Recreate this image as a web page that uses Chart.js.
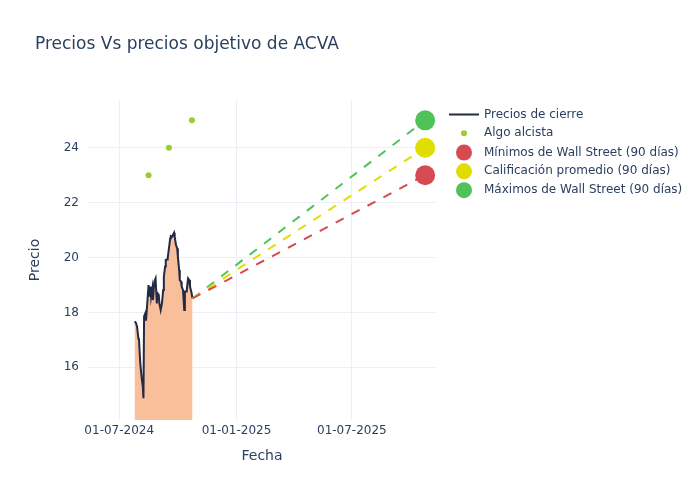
<!DOCTYPE html>
<html>
<head>
<meta charset="utf-8">
<script src="https://cdn.jsdelivr.net/npm/chart.js@4/dist/chart.umd.min.js"></script>
<style>
	html, body { margin: 0; padding: 0; background: #ffffff; }
</style>
</head>
<body>
<canvas id="chart" width="700" height="500"></canvas>
<script>
// Precios de cierre (ACVA)
const closeDates = [
	"2024-07-25", "2024-07-27", "2024-07-29", "2024-07-31", "2024-08-01", "2024-08-03",
	"2024-08-05", "2024-08-07", "2024-08-08", "2024-08-09", "2024-08-11", "2024-08-12",
	"2024-08-14", "2024-08-16", "2024-08-17", "2024-08-19", "2024-08-20", "2024-08-22",
	"2024-08-23", "2024-08-25", "2024-08-27", "2024-08-29", "2024-08-30", "2024-09-01",
	"2024-09-02", "2024-09-04", "2024-09-06", "2024-09-08", "2024-09-09", "2024-09-11",
	"2024-09-12", "2024-09-14", "2024-09-15", "2024-09-17", "2024-09-19", "2024-09-20",
	"2024-09-22", "2024-09-23", "2024-09-25", "2024-09-26", "2024-09-28", "2024-09-30",
	"2024-10-01", "2024-10-03", "2024-10-04", "2024-10-06", "2024-10-07", "2024-10-09",
	"2024-10-11", "2024-10-12", "2024-10-14", "2024-10-15", "2024-10-17", "2024-10-19",
	"2024-10-20", "2024-10-22", "2024-10-24",
];
const closePrices = [
	17.67, 17.63, 17.48, 17.06, 17.0, 16.15,
	15.66, 15.3, 14.87, 17.85, 17.97, 17.7,
	18.33, 19.0, 18.58, 18.94, 18.57, 18.88,
	18.45, 19.12, 19.24, 18.33, 18.7, 18.64,
	18.33, 18.09, 18.33, 18.82, 19.3, 19.67,
	19.91, 19.93, 19.97, 20.33, 20.7, 20.78,
	20.76, 20.76, 20.9, 20.76, 20.46, 20.33,
	20.03, 19.55, 19.18, 19.12, 18.94, 18.82,
	18.09, 18.76, 18.76, 18.82, 19.24, 19.18,
	18.94, 18.76, 18.51,
];

// Señales "Algo alcista"
const algoDates = ["2024-08-16", "2024-09-17", "2024-10-23"];
const algoPrices = [23, 24, 25];

// Precios objetivo a un año
const targetDate = "2025-10-24";
const targetLabels = [
	"Mínimos de Wall Street (90 días)",
	"Calificación promedio (90 días)",
	"Máximos de Wall Street (90 días)",
];
const targetValues = [23, 24, 25];
const targetColors = ["#d64b52", "#e0dd00", "#4fc35a"];

// Ejes
const xTicks = ["2024-07-01", "2025-01-01", "2025-07-01"];
const xRange = ["2024-05-13", "2025-11-10"];
const yTicks = [16, 18, 20, 22, 24];
const yRange = [14.08, 25.74];

const TEXT_COLOR = "#2a3f5f";
const GRID_COLOR = "#ebf0f8";
const LINE_COLOR = "#222a45";
const FILL_COLOR = "#f9bf9b";
const ALGO_COLOR = "#9acd32";
const FONT = "'DejaVu Sans', sans-serif";

const ts = (d) => Date.parse(d);

function formatDate(value) {
	const d = new Date(value);
	const dd = String(d.getUTCDate()).padStart(2, "0");
	const mm = String(d.getUTCMonth() + 1).padStart(2, "0");
	return `${dd}-${mm}-${d.getUTCFullYear()}`;
}

const lastDate = closeDates[closeDates.length - 1];
const lastPrice = closePrices[closePrices.length - 1];

const datasets = [
	{
		label: "Precios de cierre",
		data: closeDates.map((d, i) => ({ x: ts(d), y: closePrices[i] })),
		borderColor: LINE_COLOR,
		borderWidth: 2,
		backgroundColor: FILL_COLOR,
		fill: "start",
		pointRadius: 0,
		tension: 0,
		order: 3,
	},
	{
		label: "Algo alcista",
		data: algoDates.map((d, i) => ({ x: ts(d), y: algoPrices[i] })),
		showLine: false,
		pointRadius: 3,
		pointBackgroundColor: ALGO_COLOR,
		pointBorderWidth: 0,
		order: 1,
	},
];

// líneas discontinuas desde el último cierre hasta cada objetivo
targetValues.forEach((v, i) => {
	datasets.push({
		label: targetLabels[i],
		data: [
			{ x: ts(lastDate), y: lastPrice },
			{ x: ts(targetDate), y: v },
		],
		borderColor: targetColors[i],
		borderWidth: 2,
		borderDash: [9, 9],
		pointRadius: [0, 10],
		pointBackgroundColor: targetColors[i],
		pointBorderWidth: 0,
		fill: false,
		order: 2,
	});
});

// Título y leyenda dibujados a mano (estilo plotly)
const decorPlugin = {
	id: "decor",
	afterDraw(chart) {
		const ctx = chart.ctx;
		ctx.save();
		ctx.fillStyle = TEXT_COLOR;
		ctx.font = `17px ${FONT}`;
		ctx.textBaseline = "middle";
		ctx.textAlign = "left";
		ctx.fillText("Precios Vs precios objetivo de ACVA", 35, 45);

		const legendItems = [
			{ text: "Precios de cierre", kind: "line", color: LINE_COLOR },
			{ text: "Algo alcista", kind: "dot", color: ALGO_COLOR, r: 3 },
			{ text: targetLabels[0], kind: "dot", color: targetColors[0], r: 8 },
			{ text: targetLabels[1], kind: "dot", color: targetColors[1], r: 8 },
			{ text: targetLabels[2], kind: "dot", color: targetColors[2], r: 8 },
		];
		const ys = [114.5, 133.3, 152.5, 171.3, 190.2];
		ctx.font = `12px ${FONT}`;
		legendItems.forEach((item, i) => {
			const y = ys[i];
			if (item.kind === "line") {
				ctx.strokeStyle = item.color;
				ctx.lineWidth = 2;
				ctx.beginPath();
				ctx.moveTo(449, y);
				ctx.lineTo(479, y);
				ctx.stroke();
			} else {
				ctx.fillStyle = item.color;
				ctx.beginPath();
				ctx.arc(464, y, item.r, 0, Math.PI * 2);
				ctx.fill();
			}
			ctx.fillStyle = TEXT_COLOR;
			ctx.fillText(item.text, 484, y);
		});
		ctx.restore();
	},
};

new Chart(document.getElementById("chart"), {
	type: "line",
	data: { datasets },
	plugins: [decorPlugin],
	options: {
		responsive: false,
		animation: false,
		layout: { padding: { left: 0, top: 100, right: 264, bottom: 0 } },
		scales: {
			x: {
				type: "linear",
				min: ts(xRange[0]),
				max: ts(xRange[1]),
				afterBuildTicks: (scale) => {
					scale.ticks = xTicks.map((d) => ({ value: ts(d) }));
				},
				afterFit: (scale) => {
					scale.height = 80;
				},
				grid: { color: GRID_COLOR, drawTicks: false },
				border: { display: false },
				ticks: {
					color: TEXT_COLOR,
					font: { family: FONT, size: 12 },
					padding: 4,
					maxRotation: 0,
					callback: (value) => formatDate(value),
				},
				title: {
					display: true,
					text: "Fecha",
					color: TEXT_COLOR,
					font: { family: FONT, size: 14 },
					padding: { top: 0, bottom: 35 },
				},
			},
			y: {
				type: "linear",
				min: yRange[0],
				max: yRange[1],
				afterBuildTicks: (scale) => {
					scale.ticks = yTicks.map((v) => ({ value: v }));
				},
				afterFit: (scale) => {
					scale.width = 88;
				},
				grid: { color: GRID_COLOR, drawTicks: false },
				border: { display: false },
				ticks: {
					color: TEXT_COLOR,
					font: { family: FONT, size: 12 },
					padding: 9,
				},
				title: {
					display: true,
					text: "Precio",
					color: TEXT_COLOR,
					font: { family: FONT, size: 14 },
					padding: { top: 27, bottom: 0 },
				},
			},
		},
		plugins: {
			legend: { display: false },
			tooltip: { enabled: false },
		},
	},
});
</script>
</body>
</html>
